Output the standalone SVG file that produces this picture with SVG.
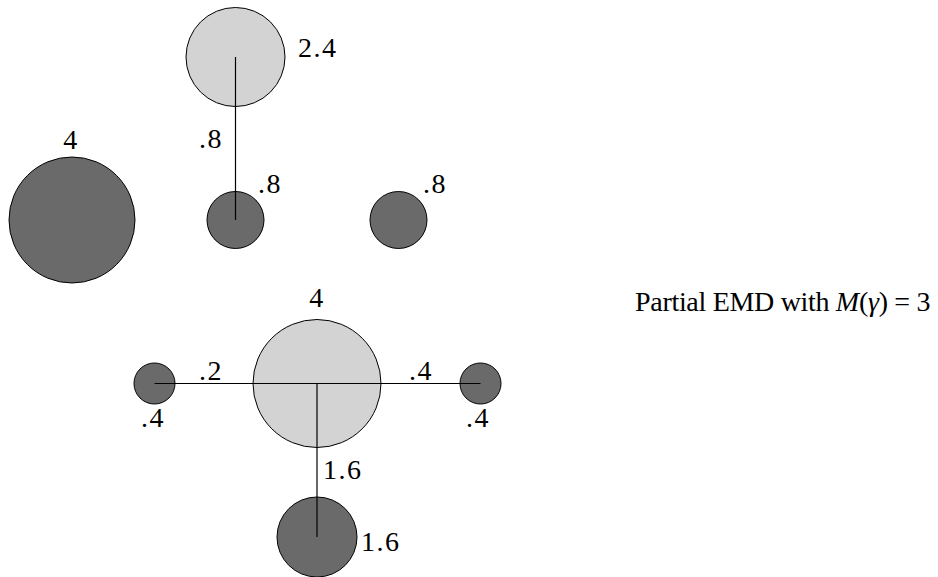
<svg xmlns="http://www.w3.org/2000/svg" width="938" height="577" viewBox="0 0 938 577">
<style>
.light{fill:#d3d3d3;stroke:#000;stroke-width:1}
.dark{fill:#6a6a6a;stroke:#000;stroke-width:1}
.edge{stroke:#000;stroke-width:1.2;fill:none}
text{font-family:"Liberation Serif","DejaVu Serif",serif;font-size:28px;fill:#000;letter-spacing:1.5px}
.c{text-anchor:middle}
</style>
<rect width="938" height="577" fill="#fff"/>
<g id="n_top_light"><circle class="light" cx="235.5" cy="57" r="49.5"/><text x="298" y="57">2.4</text></g>
<g id="n_top_small"><circle class="dark" cx="235.5" cy="220" r="28.5"/><text x="258" y="193">.8</text></g>
<g id="n_top_right"><circle class="dark" cx="398.5" cy="220" r="28.5"/><text x="423" y="193">.8</text></g>
<g id="n_big_dark"><circle class="dark" cx="72" cy="220" r="63"/><text class="c" x="71" y="149">4</text></g>
<g id="n_bot_light"><circle class="light" cx="317" cy="383.5" r="64"/><text class="c" x="317" y="307">4</text></g>
<g id="n_left_small"><circle class="dark" cx="154.5" cy="383.5" r="20.5"/><text x="141" y="427">.4</text></g>
<g id="n_right_small"><circle class="dark" cx="480.5" cy="383.5" r="20.5"/><text x="466" y="427">.4</text></g>
<g id="n_bottom"><circle class="dark" cx="317" cy="537" r="40"/><text x="361" y="551">1.6</text></g>
<g id="connectors">
<line class="edge" x1="235.5" y1="57" x2="235.5" y2="220"/>
<line class="edge" x1="154.5" y1="383.5" x2="480.5" y2="383.5"/>
<line class="edge" x1="317" y1="383.5" x2="317" y2="537"/>
<text x="199" y="148">.8</text>
<text x="199" y="380">.2</text>
<text x="409" y="380">.4</text>
<text x="323" y="479">1.6</text>
</g>
<text x="635" y="311" textLength="297" lengthAdjust="spacing">Partial EMD with <tspan font-style="italic">M</tspan>(<tspan font-style="italic">γ</tspan>) = 3</text>
</svg>
